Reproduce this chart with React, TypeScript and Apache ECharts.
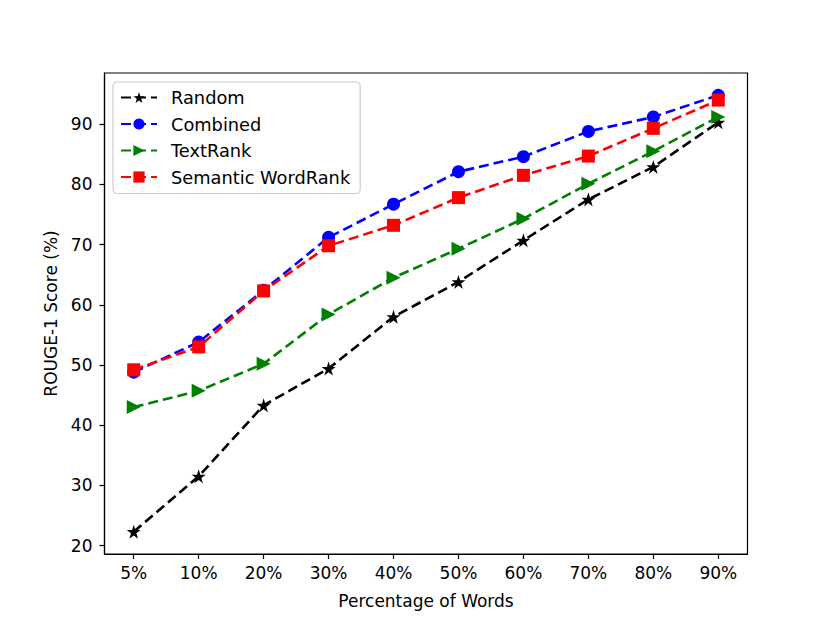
import React, { useEffect, useRef } from "react";
import * as echarts from "echarts";

const categories = ["5%", "10%", "20%", "30%", "40%", "50%", "60%", "70%", "80%", "90%"];
const randomVals = [22.3, 31.5, 43.3, 49.4, 58.0, 63.8, 70.7, 77.5, 82.9, 90.3];
const combinedVals = [48.8, 53.8, 62.4, 71.2, 76.7, 82.1, 84.6, 88.8, 91.2, 94.8];
const textRankVals = [43.0, 45.7, 50.2, 58.4, 64.5, 69.3, 74.3, 80.1, 85.5, 91.2];
const semanticVals = [49.2, 53.0, 62.3, 69.8, 73.2, 77.8, 81.5, 84.7, 89.3, 94.0];
const yTicks = [20, 30, 40, 50, 60, 70, 80, 90];

function starPath(): string {
  const pts: string[] = [];
  for (let i = 0; i < 10; i++) {
    const r = i % 2 === 0 ? 50 : 19;
    const a = (-90 + i * 36) * Math.PI / 180;
    pts.push(`${(50 + r * Math.cos(a)).toFixed(2)} ${(50 + r * Math.sin(a)).toFixed(2)}`);
  }
  return "path://M" + pts.join(" L") + " Z";
}

export default function App() {
  const ref = useRef<HTMLDivElement>(null);
  useEffect(() => {
    if (!ref.current) return;
    const chart = echarts.init(ref.current, undefined, { renderer: "svg" });
    const font = "DejaVu Sans";
    const mk = (vals: number[]) => vals.map((v, i) => [i, v]);
    const lineW = 2.6;
    const dash = [10, 5];
    chart.setOption({
      animation: false,
      backgroundColor: "#ffffff",
      textStyle: { fontFamily: font },
      grid: {
        left: 104.5, right: 82.5, top: 73, bottom: 68,
        show: true, borderColor: "#000", borderWidth: 1.2, backgroundColor: "transparent",
      },
      legend: {
        orient: "vertical",
        left: 113, top: 82,
        padding: [6, 10, 7, 7],
        itemGap: 7.5,
        itemWidth: 36, itemHeight: 14,
        borderColor: "#cccccc", borderWidth: 1.2, borderRadius: 4,
        textStyle: { fontFamily: font, fontSize: 17.8, color: "#000", padding: [0, 0, 0, 9], lineHeight: 19 },
        data: ["Random", "Combined", "TextRank", "Semantic WordRank"],
      },
      xAxis: {
        type: "value",
        min: -0.45, max: 9.45,
        name: "Percentage of Words",
        nameLocation: "middle",
        nameGap: 38,
        nameTextStyle: { fontFamily: font, fontSize: 17, color: "#000" },
        axisLine: { show: true, onZero: false, lineStyle: { color: "#000", width: 1.2 } },
        axisTick: { show: true, length: 5, lineStyle: { color: "#000", width: 1.2 }, customValues: categories.map((_, i) => i) },
        axisLabel: {
          margin: 10, fontSize: 17, color: "#000", fontFamily: font,
          customValues: categories.map((_, i) => i),
          formatter: (v: number) => categories[Math.round(v)] ?? "",
        },
        splitLine: { show: false },
      },
      yAxis: {
        type: "value",
        min: 18.6, max: 98.5,
        name: "ROUGE-1 Score (%)",
        nameLocation: "middle",
        nameGap: 45,
        nameTextStyle: { fontFamily: font, fontSize: 17, color: "#000" },
        axisLine: { show: true, onZero: false, lineStyle: { color: "#000", width: 1.2 } },
        axisTick: { show: true, length: 5, lineStyle: { color: "#000", width: 1.2 }, customValues: yTicks },
        axisLabel: { margin: 12, fontSize: 17, color: "#000", fontFamily: font, customValues: yTicks },
        splitLine: { show: false },
      },
      series: [
        {
          name: "Random", type: "line", data: mk(randomVals),
          symbol: starPath(), symbolSize: 14,
          itemStyle: { color: "#000000" },
          lineStyle: { color: "#000000", width: lineW, type: dash },
        },
        {
          name: "Combined", type: "line", data: mk(combinedVals),
          symbol: "circle", symbolSize: 13,
          itemStyle: { color: "#0000ff" },
          lineStyle: { color: "#0000ff", width: lineW, type: dash },
        },
        {
          name: "TextRank", type: "line", data: mk(textRankVals),
          symbol: "triangle", symbolSize: 14, symbolRotate: -90,
          itemStyle: { color: "#008000" },
          lineStyle: { color: "#008000", width: lineW, type: dash },
        },
        {
          name: "Semantic WordRank", type: "line", data: mk(semanticVals),
          symbol: "rect", symbolSize: 13,
          itemStyle: { color: "#ff0000" },
          lineStyle: { color: "#ff0000", width: lineW, type: dash },
        },
      ],
    });
    return () => chart.dispose();
  }, []);
  return <div ref={ref} style={{ width: 830, height: 622, position: "absolute", left: 0, top: 0 }} />;
}
